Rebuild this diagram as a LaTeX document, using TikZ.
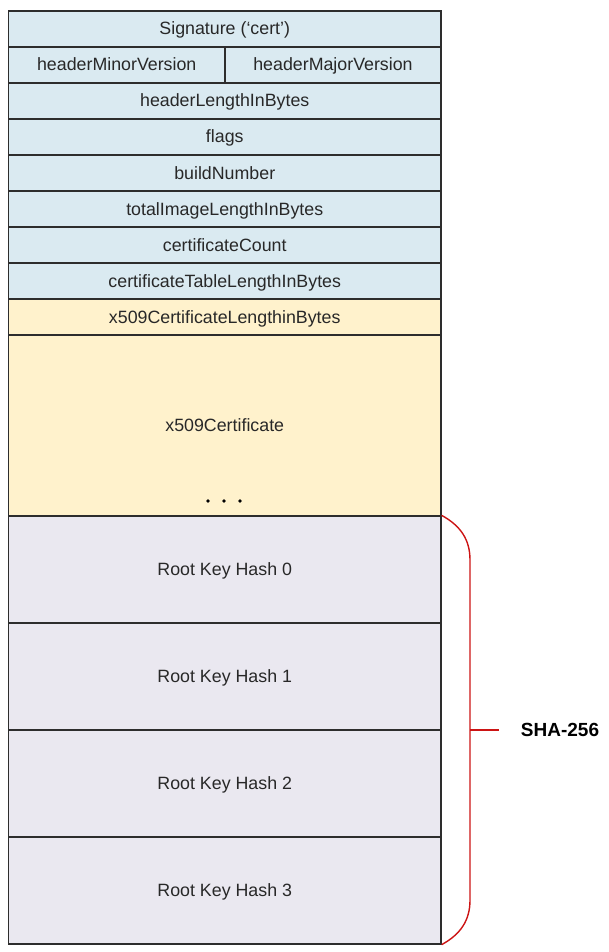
\documentclass[tikz,border=0pt]{standalone}
\usepackage{fontspec}
\setmainfont{Liberation Sans}
\definecolor{hdrblue}{RGB}{218,234,241}
\definecolor{certyellow}{RGB}{255,242,204}
\definecolor{keylilac}{RGB}{234,232,240}
\definecolor{edgegray}{RGB}{45,45,45}
\definecolor{textgray}{RGB}{40,40,40}
\definecolor{shared}{RGB}{204,20,20}
\begin{document}
\begin{tikzpicture}[x=1pt,y=1pt,font=\fontsize{17.8}{20}\selectfont,
    field/.style={rectangle,draw=edgegray,line width=1.3pt,inner sep=0pt,
      minimum width=432.5pt,minimum height=36pt,text=textgray,
      text height=12.6pt,text depth=0.6pt},
    hdr/.style={field,fill=hdrblue},
    cert/.style={field,fill=certyellow},
    keyrow/.style={field,fill=keylilac,minimum height=107pt}]
    \useasboundingbox (0,0) rectangle (609,-952);

        \node at (224.75,-29) [hdr] (c100) {Signature (‘cert’)};
        \node at (116.75,-65) [hdr,minimum width=216.5pt] (c200) {headerMinorVersion};
        \node at (333,-65) [hdr,minimum width=216pt] (c210) {headerMajorVersion};
        \node at (224.75,-101) [hdr] (c300) {headerLengthInBytes};
        \node at (224.75,-137) [hdr] (c400) {flags};
        \node at (224.75,-173) [hdr] (c500) {buildNumber};
        \node at (224.75,-209) [hdr] (c600) {totalImageLengthInBytes};
        \node at (224.75,-245) [hdr] (c700) {certificateCount};
        \node at (224.75,-281) [hdr] (c800) {certificateTableLengthInBytes};

        \node at (224.75,-317) [cert] (c900) {x509CertificateLengthinBytes};
        \node at (224.75,-425.5) [cert,minimum height=181pt] (c1000) {x509Certificate};
        \foreach \x in {208,224,240}
            \fill[black] (\x,-501) circle (1.9pt);

        \node at (224.75,-569.5) [keyrow] (c1100) {Root Key Hash 0};
        \node at (224.75,-676.5) [keyrow] (c1200) {Root Key Hash 1};
        \node at (224.75,-783.5) [keyrow] (c1300) {Root Key Hash 2};
        \node at (224.75,-890.5) [keyrow] (c1400) {Root Key Hash 3};

        \coordinate (b100) at (470,-730);
        \coordinate (b200) at (499,-730);
        \node at (560,-730) [font=\fontsize{19}{22}\selectfont\bfseries,text height=13.6pt,text depth=0pt] (c1500) {SHA-256};
        \draw[shared,line width=1.4pt] (c1100.north east) .. controls (461,-526) and (470,-540) .. (470,-560)
            -- (470,-900) .. controls (470,-920) and (461,-934) .. (c1400.south east);
        \draw[shared,line width=1.6pt] (b100)--(b200);

    \end{tikzpicture}
\end{document}
